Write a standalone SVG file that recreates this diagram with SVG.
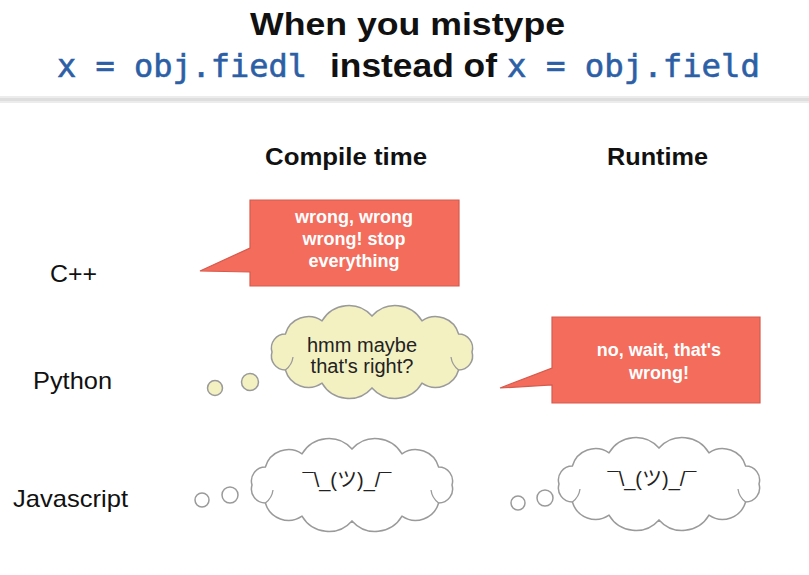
<svg xmlns="http://www.w3.org/2000/svg" xmlns:xlink="http://www.w3.org/1999/xlink" width="809" height="575" viewBox="0 0 809 575">
<style>
.title{font-family:"Liberation Sans",Arial,sans-serif;font-weight:bold;fill:#111}
.mono{font-family:"DejaVu Sans Mono","Liberation Mono",monospace;fill:#2d5fa6;stroke:#2d5fa6;stroke-width:0.6}
.hdr{font-family:"Liberation Sans",Arial,sans-serif;font-weight:bold;font-size:24px;fill:#111}
.row{font-family:"Liberation Sans",Arial,sans-serif;font-size:24px;fill:#111}
.say{fill:#f36c5c;stroke:#d65a4c;stroke-width:1.2}
.sayt{font-family:"Liberation Sans",Arial,sans-serif;font-weight:bold;font-size:18px;fill:#fff;text-anchor:middle}
.think{font-family:"Liberation Sans",Arial,sans-serif;font-size:20px;fill:#222;text-anchor:middle}
.shrug{font-family:"Liberation Sans","Noto Sans CJK JP",sans-serif;font-size:20px;fill:#222;text-anchor:middle}
.cloud{stroke:#9a9a9a;stroke-width:1.5}
.yel{fill:#f3f0c2}
.wht{fill:#ffffff}
.bub{stroke:#9a9a9a;stroke-width:1.5}
.hook{fill:none;stroke:#9a9a9a;stroke-width:1.3}
</style>
<defs>
<path id="cloud" d="M100,0 A14,14 0 0,1 86.6,18 A24,24 0 0,1 50,31.2 A31,31 0 0,1 0,36 A31,31 0 0,1 -50,31.2 A24,24 0 0,1 -86.6,18 A14,14 0 0,1 -100,0 A14,14 0 0,1 -86.6,-18 A24,24 0 0,1 -50,-31.2 A31,31 0 0,1 0,-36 A31,31 0 0,1 50,-31.2 A24,24 0 0,1 86.6,-18 A14,14 0 0,1 100,0 Z"/>
<path id="hooks" d="M-86.6,18 Q-80,13 -79,5 M86.6,18 Q80,13 79,5"/>
</defs>
<rect width="809" height="575" fill="#ffffff"/>

<g id="title">
<text class="title" x="250" y="35" font-size="32" textLength="315" lengthAdjust="spacingAndGlyphs">When you mistype</text>
<text class="mono" x="57" y="77" font-size="32" textLength="250" lengthAdjust="spacingAndGlyphs">x = obj.fiedl</text>
<text class="title" x="330" y="77" font-size="33" textLength="167" lengthAdjust="spacingAndGlyphs">instead of</text>
<text class="mono" x="507" y="77" font-size="32" textLength="253" lengthAdjust="spacingAndGlyphs">x = obj.field</text>
<rect x="0" y="96" width="809" height="7" fill="#ececec"/>
<rect x="0" y="98" width="809" height="3" fill="#dedede"/>
</g>

<g id="headers">
<text class="hdr" x="265" y="165" textLength="162" lengthAdjust="spacingAndGlyphs">Compile time</text>
<text class="hdr" x="607" y="165" textLength="101" lengthAdjust="spacingAndGlyphs">Runtime</text>
</g>

<g id="row-labels">
<text class="row" x="50" y="282" textLength="47" lengthAdjust="spacingAndGlyphs">C++</text>
<text class="row" x="33" y="389" textLength="79" lengthAdjust="spacingAndGlyphs">Python</text>
<text class="row" x="13" y="507" textLength="115" lengthAdjust="spacingAndGlyphs">Javascript</text>
</g>

<g id="cpp-compile">
<path class="say" d="M250,200 H459 V286 H250 V272 L200,271 L250,248 Z"/>
<text class="sayt" x="354" y="223">wrong, wrong</text>
<text class="sayt" x="354" y="245">wrong! stop</text>
<text class="sayt" x="354" y="267">everything</text>
</g>

<g id="python-compile">
<circle class="bub yel" cx="215" cy="388" r="7.5"/>
<circle class="bub yel" cx="250" cy="382" r="8.5"/>
<g transform="translate(372,352)">
<use xlink:href="#cloud" class="cloud yel"/>
<use xlink:href="#hooks" class="hook"/>
</g>
<text class="think" x="362" y="352">hmm maybe</text>
<text class="think" x="362" y="373">that's right?</text>
</g>

<g id="python-runtime">
<path class="say" d="M552,317 H760 V403 H552 V385 L500,388 L552,368 Z"/>
<text class="sayt" x="659" y="356">no, wait, that's</text>
<text class="sayt" x="659" y="379">wrong!</text>
</g>

<g id="js-compile">
<circle class="bub wht" cx="202" cy="500" r="7"/>
<circle class="bub wht" cx="230" cy="495" r="8"/>
<g transform="translate(352,485)">
<use xlink:href="#cloud" class="cloud wht"/>
<use xlink:href="#hooks" class="hook"/>
</g>
<text class="shrug" x="347" y="487">¯\_(ツ)_/¯</text>
</g>

<g id="js-runtime">
<circle class="bub wht" cx="518" cy="503" r="7"/>
<circle class="bub wht" cx="545" cy="498" r="8"/>
<g transform="translate(659,484)">
<use xlink:href="#cloud" class="cloud wht"/>
<use xlink:href="#hooks" class="hook"/>
</g>
<text class="shrug" x="652" y="486">¯\_(ツ)_/¯</text>
</g>

<g id="connectors"/>
</svg>
